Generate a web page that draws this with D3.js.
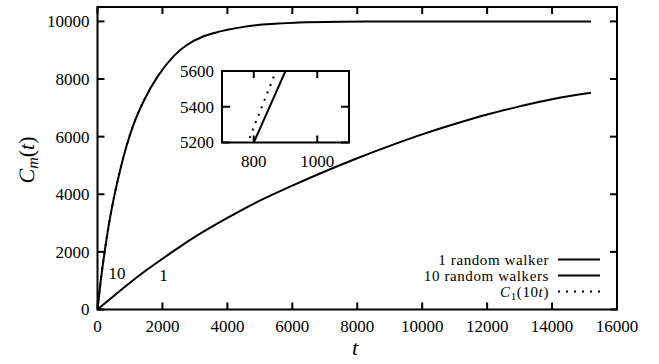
<!DOCTYPE html>
<html>
<head>
<meta charset="utf-8">
<script src="https://d3js.org/d3.v7.min.js"></script>
<style>
  body { margin: 0; background: #fff; }
  svg text { font-family: "Liberation Serif", "DejaVu Serif", serif; fill: #000; }
  .frame { fill: none; stroke: #000; stroke-width: 2px; }
  .tick-mark { stroke: #000; stroke-width: 2px; }
  .curve { fill: none; stroke: #000; stroke-width: 2px; stroke-linejoin: round; }
  .dotted { fill: none; stroke: #000; stroke-width: 2px; stroke-dasharray: 2 6; }
</style>
</head>
<body>
<div id="chart"></div>
<script>
  // values
  const xTicks = [0, 2000, 4000, 6000, 8000, 10000, 12000, 14000, 16000];
  const yTicks = [0, 2000, 4000, 6000, 8000, 10000];

  // 1 random walker
  const t1 = [0, 500, 1000, 1500, 2000, 3000, 4000, 5000, 6000, 7000, 8000, 9000, 10000, 11000, 12000, 13000, 14000, 15200];
  const c1 = [0, 470, 930, 1360, 1760, 2520, 3180, 3780, 4300, 4790, 5250, 5680, 6080, 6440, 6770, 7050, 7300, 7520];

  // 10 random walkers
  const t10 = [0, 100, 220, 350, 510, 700, 900, 1120, 1450, 1860, 2370, 2750, 3200, 3600, 4000, 4500, 5200, 6200, 7500, 9000, 11000, 13000, 15200];
  const c10 = [0, 1000, 2000, 2950, 3900, 4850, 5700, 6450, 7300, 8100, 8820, 9180, 9450, 9600, 9710, 9810, 9900, 9960, 9990, 10000, 10000, 10000, 10000];

  // C1(10t), only up to t = 1520 (hidden under the 10-walker curve)
  const tDot = [0, 100, 220, 350, 510, 700, 900, 1120, 1450, 1520];
  const cDot = [0, 1000, 2000, 2950, 3900, 4850, 5700, 6450, 7300, 7440];

  // inset (zoom around t = 800)
  const insetXTicks = [800, 1000];
  const insetYTicks = [5200, 5400, 5600];
  const insetT10 = [750, 800, 900, 950];
  const insetC10 = [5000, 5200, 5600, 5800];
  const insetTDot = [760, 790, 870, 900];
  const insetCDot = [5100, 5240, 5600, 5740];

  const legendNames = ["1 random walker", "10 random walkers", "C1(10t)"];

  const W = 659, H = 364;
  const margin = { top: 7, right: 42, bottom: 54.5, left: 97.5 };
  const iw = W - margin.left - margin.right;
  const ih = H - margin.top - margin.bottom;

  const svg = d3.select("#chart").append("svg").attr("width", W).attr("height", H);
  const g = svg.append("g").attr("transform", `translate(${margin.left},${margin.top})`);

  const x = d3.scaleLinear().domain([0, 16000]).range([0, iw]);
  const y = d3.scaleLinear().domain([0, 10500]).range([ih, 0]);

  svg.append("defs").append("clipPath").attr("id", "clip")
    .append("rect").attr("width", iw).attr("height", ih);

  const tickLen = 7;

  // ticks, inward and mirrored
  xTicks.forEach(v => {
    g.append("line").attr("class", "tick-mark")
      .attr("x1", x(v)).attr("x2", x(v)).attr("y1", ih).attr("y2", ih - tickLen);
    g.append("line").attr("class", "tick-mark")
      .attr("x1", x(v)).attr("x2", x(v)).attr("y1", 0).attr("y2", tickLen);
    g.append("text").attr("x", x(v)).attr("y", ih + 17)
      .attr("dy", "0.35em").attr("text-anchor", "middle").style("font-size", "17px").text(v);
  });
  yTicks.forEach(v => {
    g.append("line").attr("class", "tick-mark")
      .attr("x1", 0).attr("x2", tickLen).attr("y1", y(v)).attr("y2", y(v));
    g.append("line").attr("class", "tick-mark")
      .attr("x1", iw).attr("x2", iw - tickLen).attr("y1", y(v)).attr("y2", y(v));
    g.append("text").attr("x", -8).attr("y", y(v))
      .attr("dy", "0.35em").attr("text-anchor", "end").style("font-size", "17px").text(v);
  });

  const line = d3.line().curve(d3.curveMonotoneX).x(d => x(d[0])).y(d => y(d[1]));
  const plot = g.append("g").attr("clip-path", "url(#clip)");

  plot.append("path").attr("class", "dotted").attr("d", line(d3.zip(tDot, cDot)));
  plot.append("path").attr("class", "curve").attr("d", line(d3.zip(t1, c1)));
  plot.append("path").attr("class", "curve").attr("d", line(d3.zip(t10, c10)));

  g.append("rect").attr("class", "frame").attr("width", iw).attr("height", ih);

  // curve labels
  g.append("text").attr("x", x(600)).attr("y", y(1250)).attr("dy", "0.35em")
    .attr("text-anchor", "middle").style("font-size", "17px").text("10");
  g.append("text").attr("x", x(2030)).attr("y", y(1210)).attr("dy", "0.35em")
    .attr("text-anchor", "middle").style("font-size", "17px").text("1");

  // axis titles
  const xl = svg.append("text").attr("x", 355).attr("y", 347).attr("dy", "0.35em")
    .attr("text-anchor", "middle").style("font-size", "22px");
  xl.append("tspan").style("font-style", "italic").text("t");

  const yl = svg.append("text").attr("transform", "translate(34,160) rotate(-90)")
    .attr("text-anchor", "middle").style("font-size", "22px")
    .style("text-rendering", "geometricPrecision");
  yl.append("tspan").style("font-style", "italic").text("C");
  yl.append("tspan").style("font-style", "italic").style("font-size", "16px").attr("dy", 4).text("m");
  yl.append("tspan").attr("dy", -4).text("(");
  yl.append("tspan").style("font-style", "italic").text("t");
  yl.append("tspan").text(")");

  // legend
  const legX = 549, legY = [259.5, 275.5, 291.5];
  legendNames.forEach((name, i) => {
    const t = svg.append("text").attr("x", legX).attr("y", legY[i]).attr("dy", "0.35em")
      .attr("text-anchor", "end").style("font-size", "15px").style("letter-spacing", "0.6px");
    if (i < 2) {
      t.text(name);
    } else {
      t.append("tspan").style("font-style", "italic").text("C");
      t.append("tspan").style("font-size", "11px").attr("dy", 3).text("1");
      t.append("tspan").attr("dy", -3).text("(10");
      t.append("tspan").style("font-style", "italic").text("t");
      t.append("tspan").text(")");
    }
    svg.append("line").attr("class", i < 2 ? "curve" : "dotted")
      .attr("x1", 558).attr("x2", 600).attr("y1", legY[i]).attr("y2", legY[i]);
  });

  // inset
  const ins = { left: 222, top: 71, width: 127, height: 71.5 };
  const ix = d3.scaleLinear().domain([700, 1100]).range([0, ins.width]);
  const iy = d3.scaleLinear().domain([5200, 5600]).range([ins.height, 0]);
  const gi = svg.append("g").attr("transform", `translate(${ins.left},${ins.top})`);
  gi.append("rect").attr("width", ins.width).attr("height", ins.height).attr("fill", "#fff");
  svg.select("defs").append("clipPath").attr("id", "clip-inset")
    .append("rect").attr("width", ins.width).attr("height", ins.height);

  const iline = d3.line().x(d => ix(d[0])).y(d => iy(d[1]));
  const ip = gi.append("g").attr("clip-path", "url(#clip-inset)");
  ip.append("path").attr("class", "dotted").attr("d", iline(d3.zip(insetTDot, insetCDot)));
  ip.append("path").attr("class", "curve").attr("d", iline(d3.zip(insetT10, insetC10)));

  insetXTicks.forEach(v => {
    gi.append("line").attr("class", "tick-mark")
      .attr("x1", ix(v)).attr("x2", ix(v)).attr("y1", ins.height).attr("y2", ins.height - tickLen);
    gi.append("line").attr("class", "tick-mark")
      .attr("x1", ix(v)).attr("x2", ix(v)).attr("y1", 0).attr("y2", tickLen);
    gi.append("text").attr("x", ix(v)).attr("y", ins.height + 19).attr("dy", "0.35em")
      .attr("text-anchor", "middle").style("font-size", "17px").text(v);
  });
  insetYTicks.forEach(v => {
    gi.append("line").attr("class", "tick-mark")
      .attr("x1", 0).attr("x2", tickLen + 1).attr("y1", iy(v)).attr("y2", iy(v));
    gi.append("line").attr("class", "tick-mark")
      .attr("x1", ins.width).attr("x2", ins.width - tickLen - 1).attr("y1", iy(v)).attr("y2", iy(v));
    gi.append("text").attr("x", -8).attr("y", iy(v)).attr("dy", "0.35em")
      .attr("text-anchor", "end").style("font-size", "17px").text(v);
  });
  gi.append("rect").attr("class", "frame").attr("width", ins.width).attr("height", ins.height);
</script>
</body>
</html>
